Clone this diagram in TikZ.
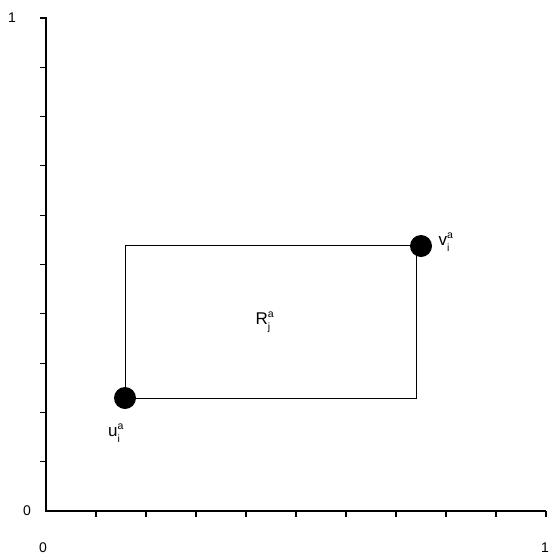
\documentclass[tikz,border=0pt]{standalone}
\usepackage{fontspec}
\setmainfont{Liberation Sans}
\newcommand{\supsubx}[2]{\rlap{\raisebox{0.85ex}{\fontsize{10.5}{10.5}\selectfont #1}}\raisebox{-0.6ex}{\fontsize{10.5}{10.5}\selectfont #2}}
\begin{document}
\begin{tikzpicture}[x=1pt,y=-1pt,
  axis/.style={line width=1.4pt},
  tick/.style={line width=1.1pt},
  box/.style={line width=0.8pt},
  dotpt/.style={circle,fill=black,inner sep=0pt,minimum size=22pt},
  num/.style={font=\fontsize{14}{14}\selectfont,inner sep=0pt},
  lab/.style={font=\fontsize{17}{17}\selectfont,inner sep=0pt}]
\useasboundingbox (0,0) rectangle (549,557);
\coordinate (O) at (46,511);
\coordinate (Ytop) at (46,18);
\coordinate (Xend) at (546,511);
\draw[axis] (40,18) -- (Ytop) -- (O) -- (Xend);
\foreach \k in {1,...,9} {
  \draw[tick] (40,{511-49.3*\k}) -- (46,{511-49.3*\k});
  \draw[tick] ({46+50*\k},511) -- ({46+50*\k},517);
}
\draw[tick] (546,511) -- (546,517);
\node[num] (y1) at (12,18) {1};
\node[num] (y0) at (27,511) {0};
\node[num] (x0) at (43,548) {0};
\node[num] (x1) at (545,548) {1};
\coordinate (BL) at (125,398);
\coordinate (TR) at (416,245);
\draw[box] (BL) rectangle (TR);
\node[dotpt] (u) at (125,398) {};
\node[dotpt] (v) at (421,246) {};
\node[lab] (R) at (263,322) {R\supsubx{a}{j}};
\node[lab] (ul) at (114,433) {u\supsubx{a}{i}};
\node[lab] (vl) at (444,242) {v\supsubx{a}{i}};
\end{tikzpicture}
\end{document}
